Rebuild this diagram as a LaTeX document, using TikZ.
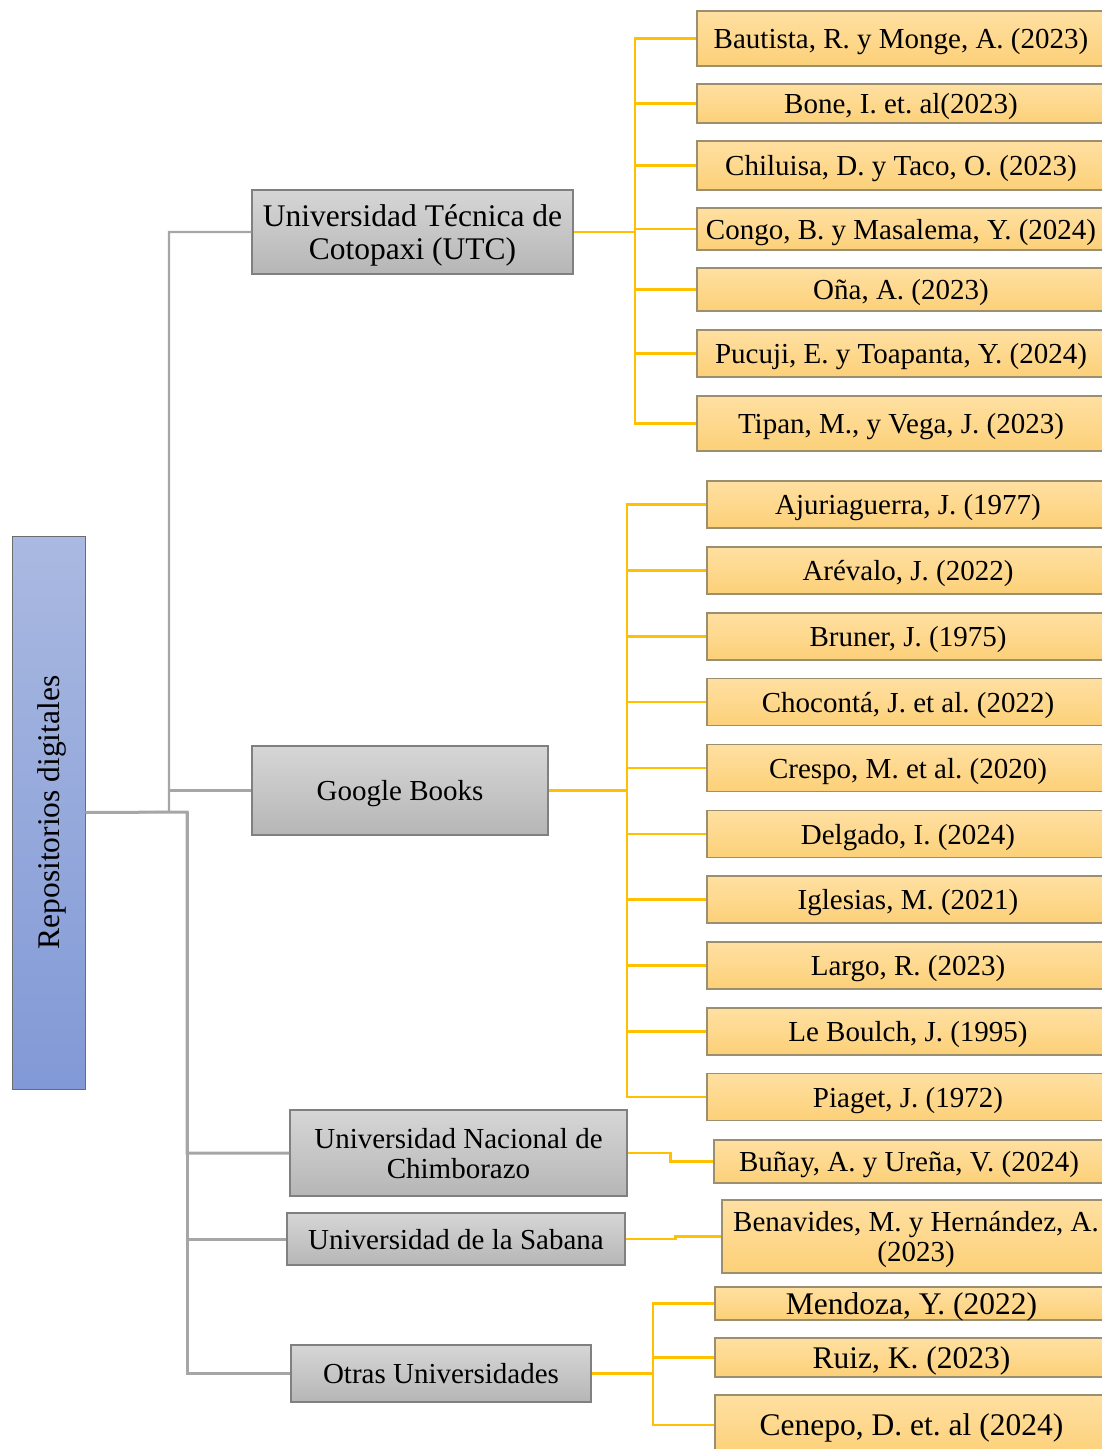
\documentclass[tikz,border=0pt]{standalone}
\usepackage{fontspec}
\setmainfont{Liberation Serif}
\usetikzlibrary{positioning}
\definecolor{rootTop}{HTML}{AAB9E1}
\definecolor{rootBot}{HTML}{8199D6}
\definecolor{uniTop}{HTML}{D6D6D6}
\definecolor{uniBot}{HTML}{B6B6B6}
\definecolor{refTop}{HTML}{FFE0A2}
\definecolor{refBot}{HTML}{FCD078}
\definecolor{refLine}{HTML}{9C8F70}
\definecolor{busGray}{HTML}{A6A6A6}
\definecolor{busGold}{HTML}{FFC000}
\newcommand{\txtA}{\fontsize{29}{30}\selectfont}
\newcommand{\txtB}{\fontsize{31.5}{33}\selectfont}
\frenchspacing

\begin{document}
\begin{tikzpicture}[x=1pt,y=-1pt]
	\tikzstyle{rootbox} = [draw=gray!85!black, line width=1pt, top color=rootTop, bottom color=rootBot, inner sep=0pt, text depth=0pt, font=\txtB]
	\tikzstyle{unibox} = [draw=gray, line width=1.2pt, top color=uniTop, bottom color=uniBot, inner sep=0pt, text depth=0pt, align=center, font=\txtA]
	\tikzstyle{refbox} = [draw=refLine, line width=1.2pt, top color=refTop, bottom color=refBot, inner sep=0pt, text depth=0pt, align=center, font=\txtA]
	\tikzstyle{grayline} = [busGray, line width=2.2pt]
	\tikzstyle{goldline} = [busGold, line width=2.6pt]
	\useasboundingbox (0,0) rectangle (1102,1449); \clip (0,0) rectangle (1102,1449);

	% root and universities
	\node[rootbox, rotate=90, minimum width=553pt, minimum height=73pt] (root) at (48.5,812.5) {Repositorios digitales};
	\node[unibox, font=\txtB, minimum width=321pt, minimum height=84pt] (utc) at (412.5,232) {Universidad T\'ecnica de\\Cotopaxi (UTC)};
	\node[unibox, minimum width=296pt, minimum height=89pt] (gb) at (400,790.5) {Google Books};
	\node[unibox, minimum width=337pt, minimum height=86pt] (unach) at (458.5,1153) {Universidad Nacional de\\Chimborazo};
	\node[unibox, minimum width=338pt, minimum height=52pt] (sab) at (456,1239) {Universidad de la Sabana};
	\node[unibox, minimum width=300pt, minimum height=57pt] (otr) at (441,1373.5) {Otras Universidades};

	% UTC references
	\node[refbox, minimum width=408pt, minimum height=55pt] (u1) at (901,38.5) {Bautista, R. y Monge, A. (2023)};
	\node[refbox, minimum width=408pt, minimum height=39pt] (u2) at (901,103.5) {Bone, I. et. al(2023)};
	\node[refbox, minimum width=408pt, minimum height=49pt] (u3) at (901,165.5) {Chiluisa, D. y Taco, O. (2023)};
	\node[refbox, minimum width=408pt, minimum height=42pt] (u4) at (901,229) {Congo, B. y Masalema, Y. (2024)};
	\node[refbox, minimum width=408pt, minimum height=43pt] (u5) at (901,289.5) {O\~na, A. (2023)};
	\node[refbox, minimum width=408pt, minimum height=47pt] (u6) at (901,353.5) {Pucuji, E. y Toapanta, Y. (2024)};
	\node[refbox, minimum width=408pt, minimum height=55pt] (u7) at (901,423.5) {Tipan, M., y Vega, J. (2023)};

	% Google Books references
	\node[refbox, minimum width=402pt, minimum height=47pt] (g1) at (908,504.5) {Ajuriaguerra, J. (1977)};
	\node[refbox, minimum width=402pt, minimum height=47pt] (g2) at (908,570.5) {Ar\'evalo, J. (2022)};
	\node[refbox, minimum width=402pt, minimum height=47pt] (g3) at (908,636.5) {Bruner, J. (1975)};
	\node[refbox, minimum width=402pt, minimum height=47pt] (g4) at (908,702) {Chocont\'a, J. et al. (2022)};
	\node[refbox, minimum width=402pt, minimum height=47pt] (g5) at (908,768) {Crespo, M. et al. (2020)};
	\node[refbox, minimum width=402pt, minimum height=47pt] (g6) at (908,834) {Delgado, I. (2024)};
	\node[refbox, minimum width=402pt, minimum height=47pt] (g7) at (908,899.5) {Iglesias, M. (2021)};
	\node[refbox, minimum width=402pt, minimum height=47pt] (g8) at (908,965.5) {Largo, R. (2023)};
	\node[refbox, minimum width=402pt, minimum height=47pt] (g9) at (908,1031.5) {Le Boulch, J. (1995)};
	\node[refbox, minimum width=402pt, minimum height=47pt] (g10) at (908,1097) {Piaget, J. (1972)};

	% other references
	\node[refbox, minimum width=390pt, minimum height=43pt] (c1) at (909,1161.5) {Bu\~nay, A. y Ure\~na, V. (2024)};
	\node[refbox, minimum width=388pt, minimum height=73pt] (s1) at (916,1236.5) {Benavides, M. y Hern\'andez, A.\\(2023)};
	\node[refbox, font=\txtB, minimum width=393pt, minimum height=33pt] (o1) at (911.5,1303.5) {Mendoza, Y. (2022)};
	\node[refbox, font=\txtB, minimum width=393pt, minimum height=39pt] (o2) at (911.5,1357.5) {Ruiz, K. (2023)};
	\node[refbox, font=\txtB, minimum width=393pt, minimum height=60pt] (o3) at (911.5,1425) {Cenepo, D. et. al (2024)};

	% gray connectors
	\coordinate (hubA) at (169,812); \coordinate (hubB) at (187,812);
	\draw[grayline] (root.south) -- (hubA) |- (utc.west); \draw[grayline] (hubA) |- (gb.west);
	\draw[grayline, line width=3pt] (root.south) -- (hubB) |- (unach.west); \draw[grayline, line width=3pt] (hubB) |- (sab.west); \draw[grayline, line width=3pt] (hubB) |- (otr.west);

	% gold connectors
	\coordinate (busU) at (635,232); \coordinate (busG) at (627,790.5); \coordinate (busO) at (653,1373.5);
	\draw[goldline] (utc.east) -- (busU); \draw[goldline] (busU) |- (u1.west); \draw[goldline] (busU) |- (u2.west); \draw[goldline] (busU) |- (u3.west); \draw[goldline] (busU) |- (u4.west); \draw[goldline] (busU) |- (u5.west); \draw[goldline] (busU) |- (u6.west); \draw[goldline] (busU) |- (u7.west);
	\draw[goldline] (gb.east) -- (busG); \draw[goldline] (busG) |- (g1.west); \draw[goldline] (busG) |- (g2.west); \draw[goldline] (busG) |- (g3.west); \draw[goldline] (busG) |- (g4.west); \draw[goldline] (busG) |- (g5.west); \draw[goldline] (busG) |- (g6.west); \draw[goldline] (busG) |- (g7.west); \draw[goldline] (busG) |- (g8.west); \draw[goldline] (busG) |- (g9.west); \draw[goldline] (busG) |- (g10.west);
	\draw[goldline] (unach.east) -- ++(43,0) |- (c1.west);
	\draw[goldline] (sab.east) -- ++(50,0) |- (s1.west);
	\draw[goldline] (otr.east) -- (busO); \draw[goldline] (busO) |- (o1.west); \draw[goldline] (busO) |- (o2.west); \draw[goldline] (busO) |- (o3.west);
\end{tikzpicture}
\end{document}
